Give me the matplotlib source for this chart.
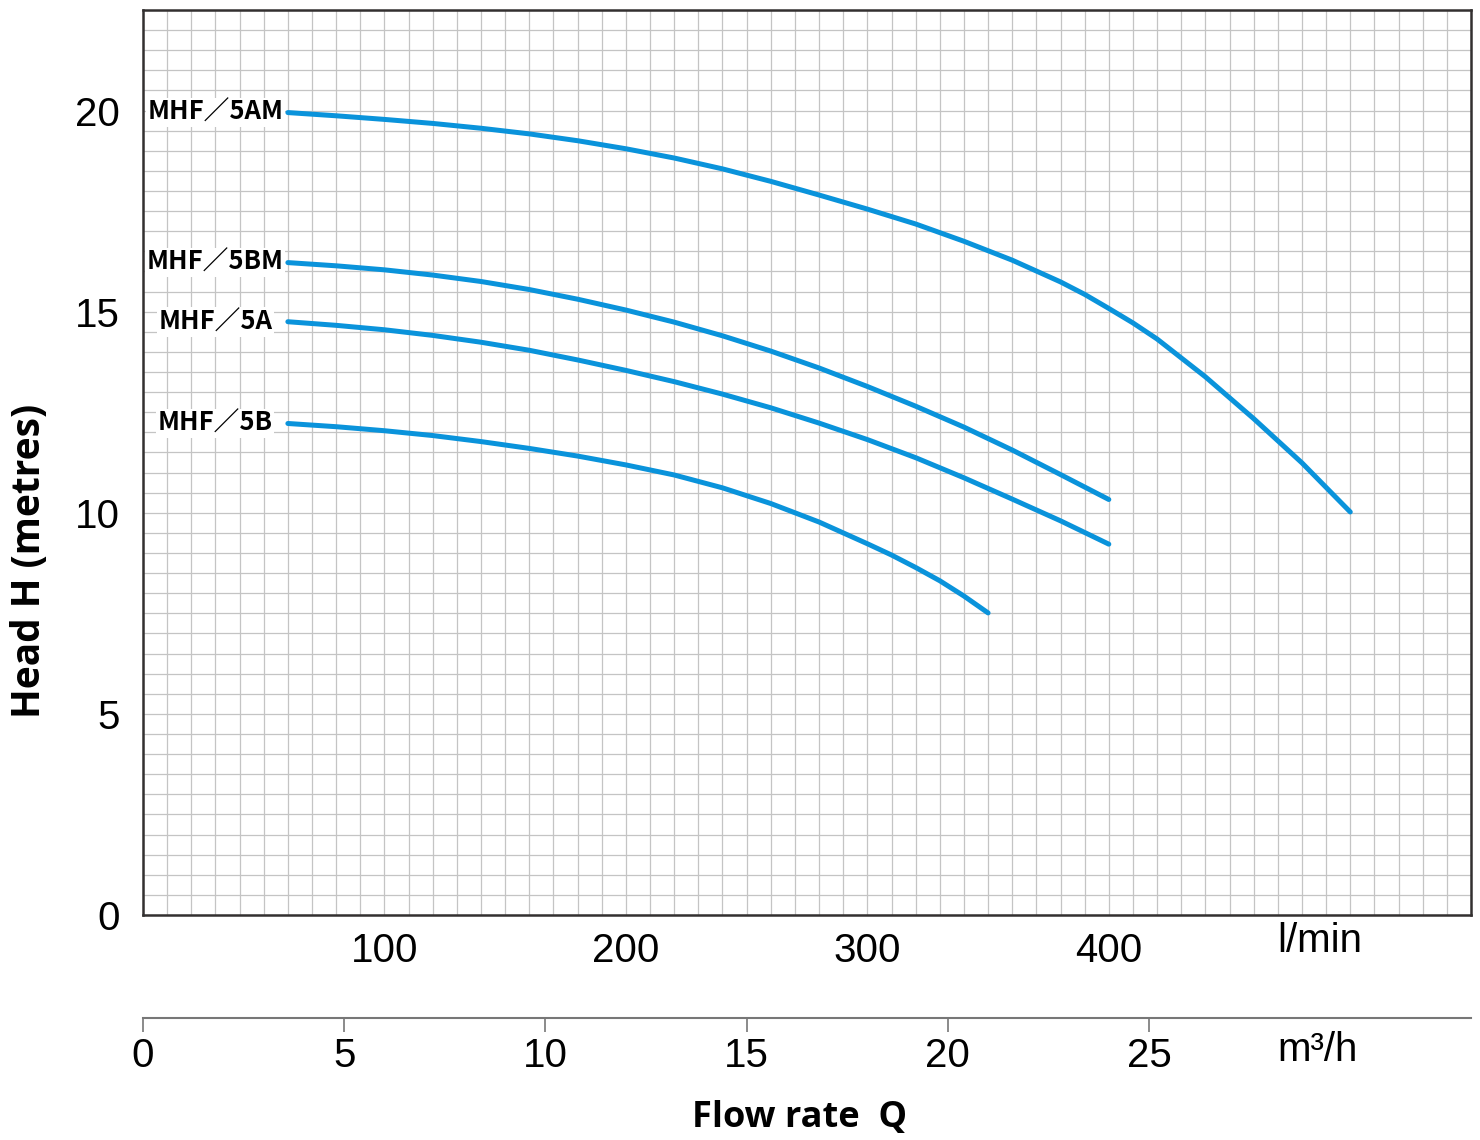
import matplotlib
matplotlib.use("Agg")
import matplotlib.pyplot as plt
from matplotlib.ticker import MultipleLocator, FixedLocator

# pump curves, flow in l/min, head in metres
flow_5am = [60, 80, 100, 120, 140, 160, 180, 200, 220, 240, 260, 280, 300, 320, 340, 360,
            380, 390, 400, 410, 420, 440, 460, 480, 500]
head_5am = [19.95, 19.87, 19.78, 19.68, 19.56, 19.42, 19.25, 19.05, 18.82, 18.55, 18.24, 17.90,
            17.55, 17.18, 16.75, 16.28, 15.74, 15.43, 15.08, 14.72, 14.32, 13.38, 12.34, 11.24,
            10.02]

flow_5bm = [60, 80, 100, 120, 140, 160, 180, 200, 220, 240, 260, 280, 300, 320, 340, 360, 380, 400]
head_5bm = [16.22, 16.14, 16.04, 15.91, 15.75, 15.55, 15.31, 15.04, 14.74, 14.40, 14.02, 13.60,
            13.14, 12.65, 12.13, 11.56, 10.95, 10.33]

flow_5a = [60, 80, 100, 120, 140, 160, 180, 200, 220, 240, 260, 280, 300, 320, 340, 360, 380, 400]
head_5a = [14.75, 14.66, 14.55, 14.41, 14.24, 14.04, 13.80, 13.54, 13.26, 12.95, 12.61, 12.23,
           11.82, 11.37, 10.87, 10.34, 9.80, 9.22]

flow_5b = [60, 80, 100, 120, 140, 160, 180, 200, 220, 240, 260, 280, 300, 310, 320, 330, 340, 350]
head_5b = [12.22, 12.14, 12.04, 11.92, 11.77, 11.60, 11.41, 11.19, 10.94, 10.62, 10.23, 9.77,
           9.23, 8.95, 8.64, 8.31, 7.93, 7.51]

curve_names = ["MHF／5AM", "MHF／5BM", "MHF／5A", "MHF／5B"]
lpm_ticks = [100, 200, 300, 400]
m3h_ticks = [0, 5, 10, 15, 20, 25]
head_ticks = [0, 5, 10, 15, 20]

blue = "#0a93db"
num_font = ["Liberation Sans", "DejaVu Sans"]
lab_font = ["Noto Sans CJK JP", "DejaVu Sans"]
bold_font = ["Open Sans", "DejaVu Sans"]

fig = plt.figure(figsize=(14.8, 11.4), dpi=100)
ax = fig.add_axes([143 / 1480, 1 - 915 / 1140, 1328 / 1480, 905 / 1140])

ax.set_xlim(0, 550)
ax.set_ylim(0, 22.5)

# fine grid
ax.xaxis.set_minor_locator(MultipleLocator(10))
ax.yaxis.set_minor_locator(MultipleLocator(0.5))
ax.grid(which="both", color="#c4c4c4", linewidth=0.9)
ax.set_axisbelow(True)

ax.xaxis.set_major_locator(FixedLocator(lpm_ticks))
ax.yaxis.set_major_locator(FixedLocator(head_ticks))
ax.tick_params(which="both", length=0)
ax.tick_params(axis="x", pad=12)
ax.tick_params(axis="y", pad=17)
for lbl in ax.get_xticklabels() + ax.get_yticklabels():
    lbl.set_fontfamily(num_font)
    lbl.set_fontsize(29)

for s in ax.spines.values():
    s.set_color("#333030")
    s.set_linewidth(1.8)

curves = [(flow_5am, head_5am), (flow_5bm, head_5bm), (flow_5a, head_5a), (flow_5b, head_5b)]
offsets = [-3, -3, -11, -11]
for (q, h), name, off in zip(curves, curve_names, offsets):
    ax.plot(q, h, color=blue, linewidth=3.6, solid_capstyle="round",
            solid_joinstyle="round", zorder=3)
    ax.annotate(name, xy=(q[0], h[0]), xytext=(off, 0), textcoords="offset points",
                ha="right", va="center", fontsize=18.5, fontweight="bold", family=lab_font,
                bbox=dict(boxstyle="square,pad=0.05", fc="white", ec="none"), zorder=4)

# second flow scale in m3/h
sec = ax.secondary_xaxis(-103 / 905, functions=(lambda q: q * 0.06, lambda m: m / 0.06))
sec.xaxis.set_major_locator(FixedLocator(m3h_ticks))
sec.tick_params(length=10, width=1.2, color="#777777", pad=4)
sec.spines["bottom"].set_color("#777777")
sec.spines["bottom"].set_linewidth(1.5)
for lbl in sec.get_xticklabels():
    lbl.set_fontfamily(num_font)
    lbl.set_fontsize(29)

fig.text(1320 / 1480, 1 - 941 / 1140, "l/min", ha="center", va="center",
         fontsize=29, family=num_font)
fig.text(1318 / 1480, 1 - 1050 / 1140, "m³/h", ha="center", va="center",
         fontsize=29, family=num_font)

fig.text(800 / 1480, 1 - 1118 / 1140, "Flow rate  Q", ha="center", va="center",
         fontsize=26, fontweight="bold", family=bold_font)
fig.text(30 / 1480, 1 - 561 / 1140, "Head H (metres)", ha="center", va="center",
         rotation=90, fontsize=28, fontweight="bold", family=bold_font)

fig.savefig("out.png", dpi=100)
